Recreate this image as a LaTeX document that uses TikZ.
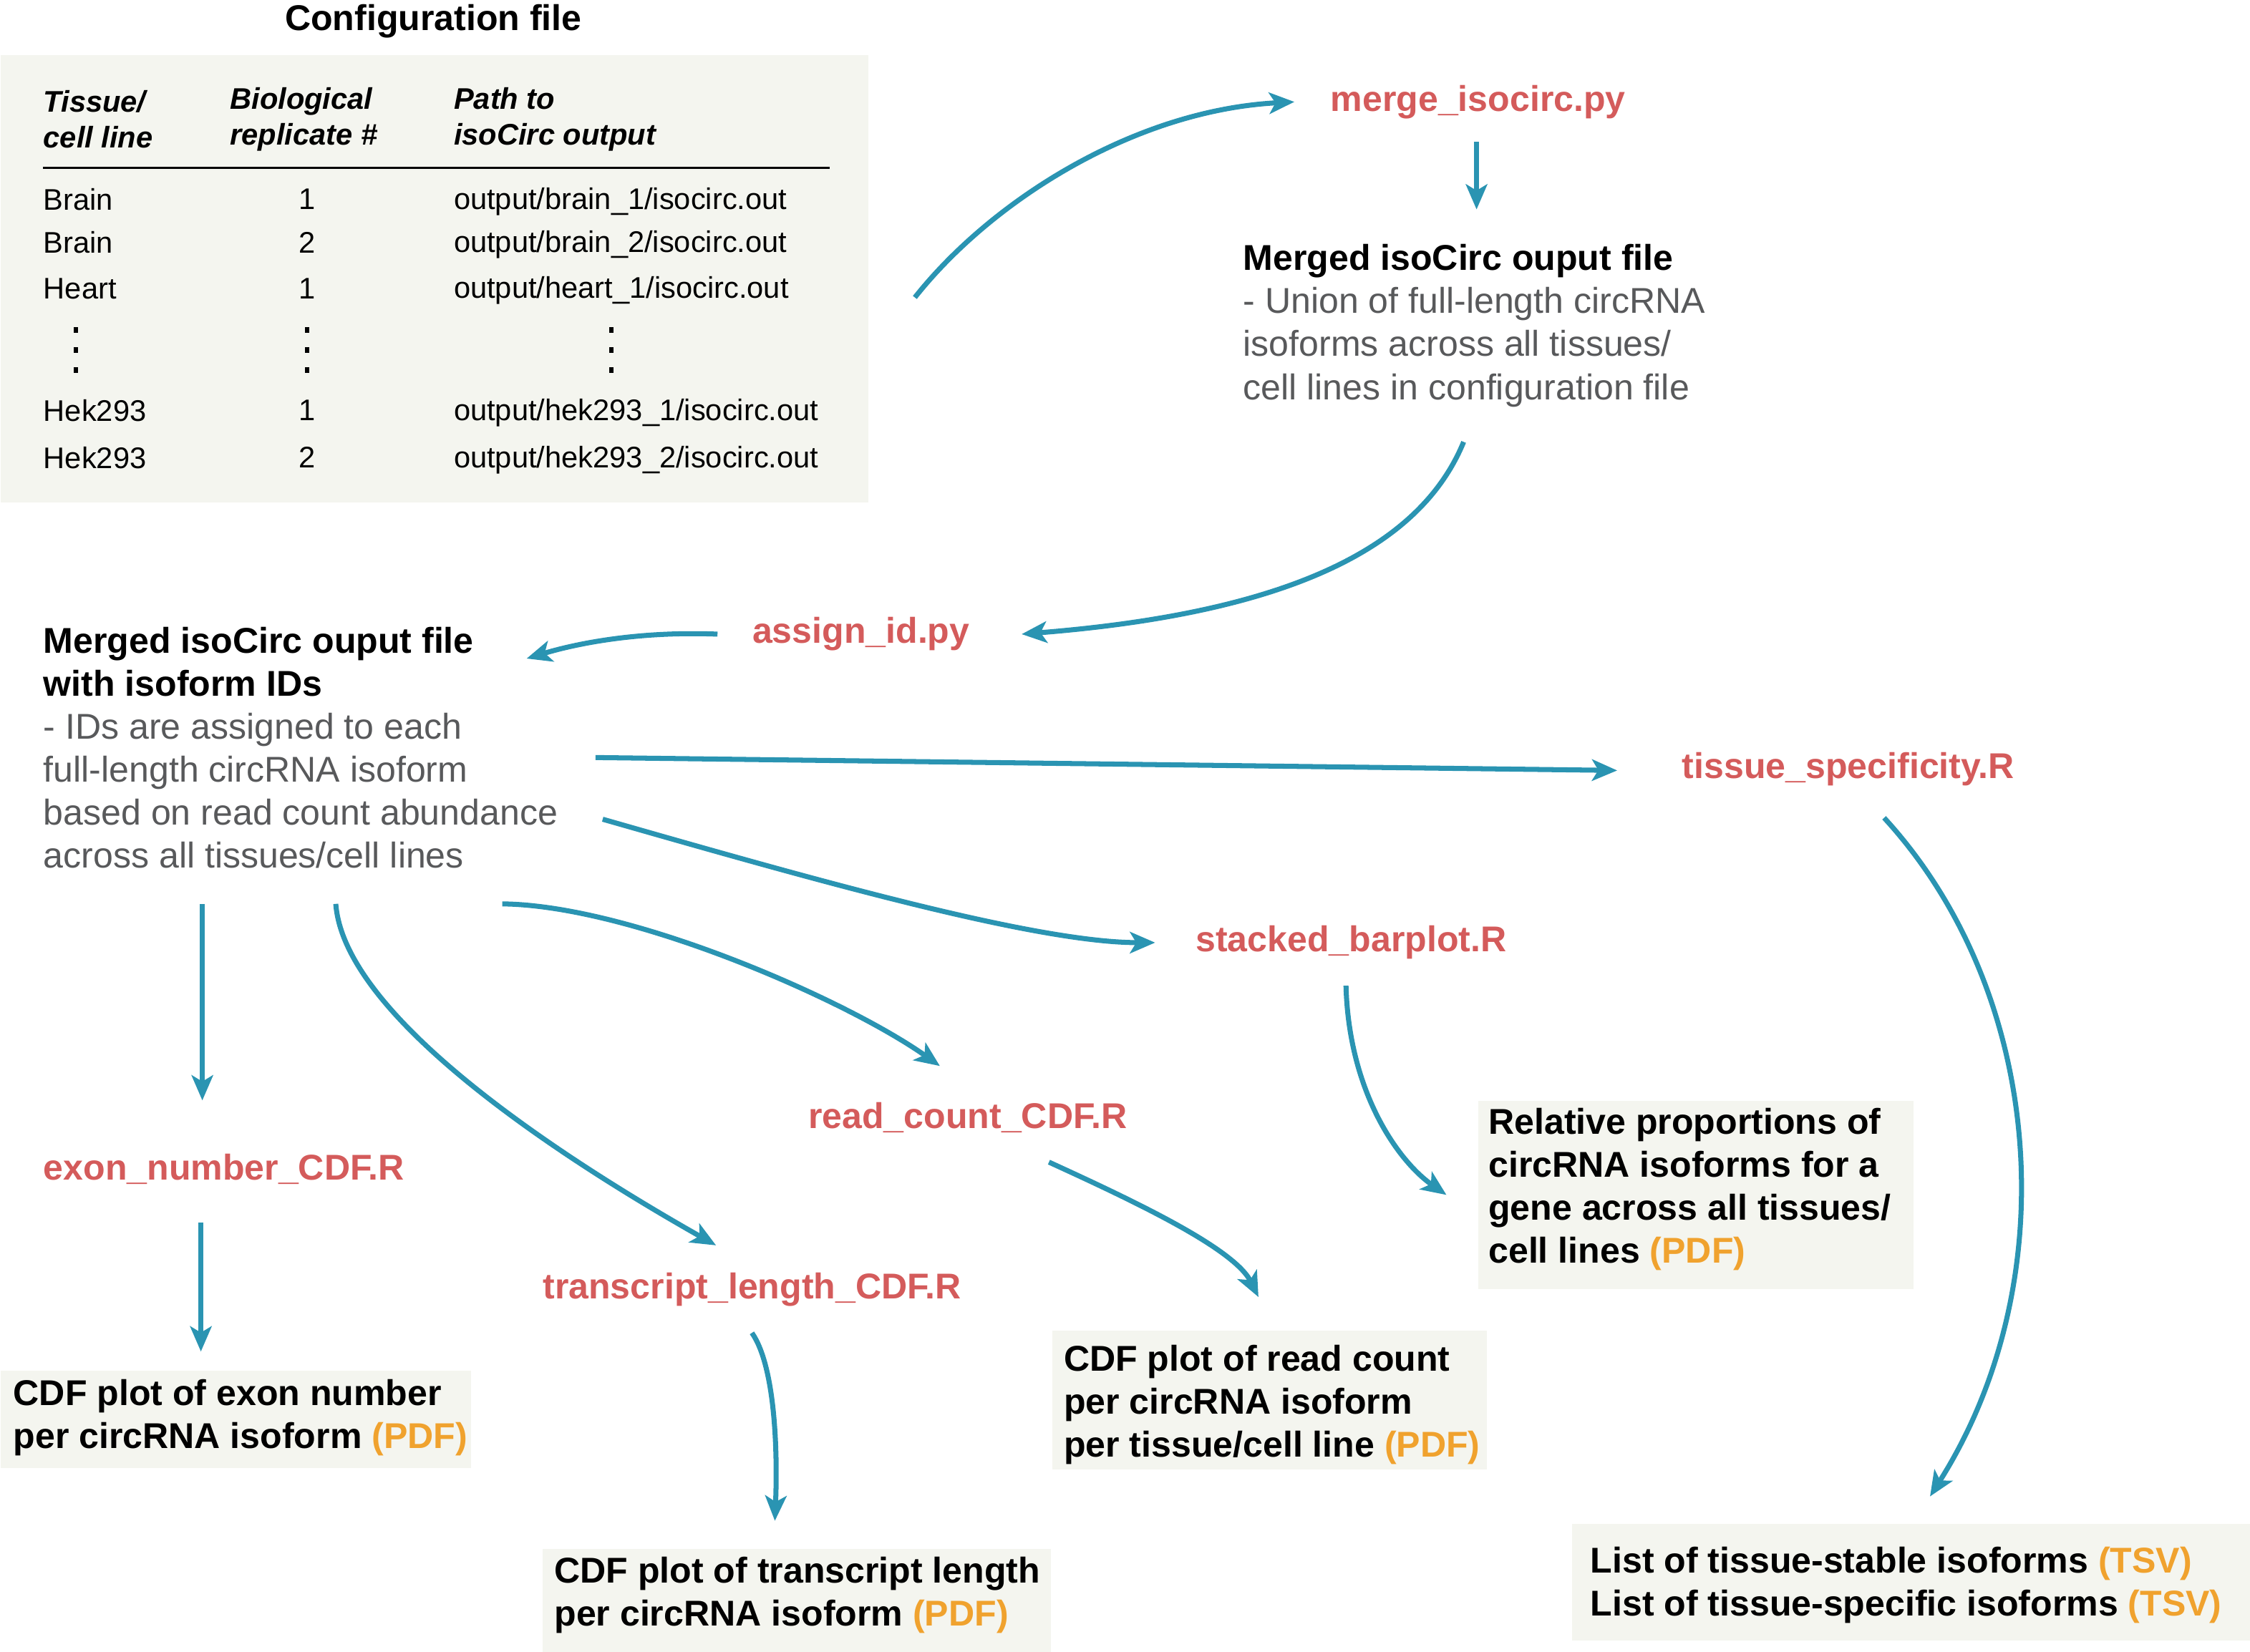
\documentclass[tikz,border=0pt]{standalone}
\usepackage{fontspec}
\setmainfont{Liberation Sans}
\usepackage{tikz}
\usetikzlibrary{arrows.meta,calc,positioning}

\definecolor{flowblue}{HTML}{2A94B2}
\definecolor{scriptred}{HTML}{D45B5B}
\definecolor{fmtorange}{HTML}{F0A22E}
\definecolor{descgray}{HTML}{58595B}
\definecolor{boxbg}{HTML}{F4F5EF}
\newcommand{\fmtpdf}{\textcolor{fmtorange}{(PDF)}}
\newcommand{\fmttsv}{\textcolor{fmtorange}{(TSV)}}

\begin{document}
\begin{tikzpicture}[x=0.020045cm, y=-0.020045cm]
	\tikzstyle{box} = [fill=boxbg, inner sep=0pt, anchor=north west]
	\tikzstyle{script} = [inner sep=0pt, anchor=west, yshift=-0.04cm, text=scriptred, font=\fontsize{14.25}{17.1}\selectfont\bfseries]
	\tikzstyle{outfile} = [inner sep=0pt, anchor=west, yshift=-0.02cm, align=left, font=\fontsize{14.25}{17.1}\selectfont\bfseries]
	\tikzstyle{desc} = [inner sep=0pt, anchor=west, yshift=-0.02cm, align=left, font=\fontsize{14.25}{17.1}\selectfont]
	\tikzstyle{cell} = [inner sep=0pt, anchor=west, font=\fontsize{11.85}{14.2}\selectfont]
	\tikzstyle{head} = [cell, align=left, yshift=-0.02cm, font=\fontsize{11.85}{14.2}\selectfont\bfseries\itshape]
	\tikzstyle{flow} = [draw=flowblue, line width=2pt, -{Stealth[length=10pt,width=8.5pt,inset=2.5pt]}]

	\useasboundingbox (0,0) rectangle (1568,1151);

	% configuration file
	\node[inner sep=0pt, yshift=-0.04cm, font=\fontsize{14.25}{17.1}\selectfont\bfseries] (title) at (302,13) {Configuration file};
	\node[box, minimum width=12.127cm, minimum height=6.254cm] (config) at (0,38) {};
	\node[head] (hd1) at (30,82) {Tissue/\\cell line};
	\node[head] (hd2) at (160,82) {Biological\\replicate \#};
	\node[head] (hd3) at (316,82) {Path to\\isoCirc output};
	\draw[line width=0.6pt] (30,117) -- (578,117);

	\node[cell] (tis1) at (30,139) {Brain};
	\node[cell, anchor=center] (rep1) at (214,139) {1};
	\node[cell, yshift=-0.03cm] (path1) at (316,139) {output/brain\_1/isocirc.out};
	\node[cell] (tis2) at (30,169) {Brain};
	\node[cell, anchor=center] (rep2) at (214,169) {2};
	\node[cell, yshift=-0.03cm] (path2) at (316,169) {output/brain\_2/isocirc.out};
	\node[cell] (tis3) at (30,201) {Heart};
	\node[cell, anchor=center] (rep3) at (214,201) {1};
	\node[cell, yshift=-0.03cm] (path3) at (316,201) {output/heart\_1/isocirc.out};
	\node[cell] (tis4) at (30,286) {Hek293};
	\node[cell, anchor=center] (rep4) at (214,286) {1};
	\node[cell, yshift=-0.03cm] (path4) at (316,286) {output/hek293\_1/isocirc.out};
	\node[cell] (tis5) at (30,319) {Hek293};
	\node[cell, anchor=center] (rep5) at (214,319) {2};
	\node[cell, yshift=-0.03cm] (path5) at (316,319) {output/hek293\_2/isocirc.out};

	\foreach \x in {53,214,426}
		\foreach \y in {230,244,258}
			\fill (\x-1.5,\y-2) rectangle ++(3,4);

	% scripts and outputs
	\node[script] (merge) at (927,69) {merge\_isocirc.py};
	\node[desc] (merged) at (866,226) {{\bfseries Merged isoCirc ouput file}\\
		\textcolor{descgray}{- Union of full-length circRNA}\\
		\textcolor{descgray}{isoforms across all tissues/}\\
		\textcolor{descgray}{cell lines in configuration file}};
	\node[script] (assign) at (524,440) {assign\_id.py};
	\node[desc] (idout) at (30,520) {{\bfseries Merged isoCirc ouput file}\\
		{\bfseries with isoform IDs}\\
		\textcolor{descgray}{- IDs are assigned to each}\\
		\textcolor{descgray}{full-length circRNA isoform}\\
		\textcolor{descgray}{based on read count abundance}\\
		\textcolor{descgray}{across all tissues/cell lines}};

	\node[script] (tissue) at (1172,534) {tissue\_specificity.R};
	\node[script] (stacked) at (833,655) {stacked\_barplot.R};
	\node[script] (readcnt) at (563,777) {read\_count\_CDF.R};
	\node[script] (exon) at (30,813) {exon\_number\_CDF.R};
	\node[script] (translen) at (378,897) {transcript\_length\_CDF.R};

	\node[box, minimum width=6.074cm, minimum height=2.626cm] (relbox) at (1030,767) {};
	\node[outfile] (relprop) at (1037,828) {Relative proportions of\\circRNA isoforms for a\\gene across all tissues/\\cell lines \fmtpdf};
	\node[box, minimum width=9.481cm, minimum height=1.624cm] (tsvbox) at (1095,1062) {};
	\node[outfile] (tsvlist) at (1108,1104) {List of tissue-stable isoforms \fmttsv\\List of tissue-specific isoforms \fmttsv};
	\node[box, minimum width=6.575cm, minimum height=1.363cm] (exonbox) at (0,955) {};
	\node[outfile] (exoncdf) at (9,987) {CDF plot of exon number\\per circRNA isoform \fmtpdf};
	\node[box, minimum width=7.096cm, minimum height=1.443cm] (tlbox) at (378,1079) {};
	\node[outfile] (tlcdf) at (386,1111) {CDF plot of transcript length\\per circRNA isoform \fmtpdf};
	\node[box, minimum width=6.074cm, minimum height=1.944cm] (rcbox) at (733,927) {};
	\node[outfile] (rccdf) at (741,978) {CDF plot of read count\\per circRNA isoform\\per tissue/cell line \fmtpdf};

	% connectors
	\draw[flow] ($(config.east)+(32,13)$) .. controls +(53,-67) and +(-112,6) .. ($(merge.west)+(-25,0)$);
	\draw[flow] ($(merge.west)+(102,28)$) -- ($(merged.west)+(163,-81)$);
	\draw[flow] ($(merged.west)+(154,81)$) .. controls +(-30,73) and +(188,-15) .. ($(assign.west)+(188,0)$);
	\draw[flow] ($(assign.west)+(-24,0)$) .. controls +(-50,-2) and +(40,-12) .. ($(idout.west)+(337,-62)$);
	\draw[flow] ($(idout.west)+(385,7)$) -- ($(tissue.west)+(-45,1)$);
	\draw[flow] ($(idout.west)+(390,50)$) .. controls +(140,40) and +(-85,0) .. ($(stacked.west)+(-28,0)$);
	\draw[flow] ($(stacked.west)+(105,30)$) .. controls +(2,75) and +(-33,-23) .. ($(relbox.west)+(-22,0)$);
	\draw[flow] ($(tissue.west)+(141,34)$) .. controls +(112,122) and +(95,-150) .. ($(tsvbox.north west)+(250,-19)$);
	\draw[flow] ($(idout.west)+(111,109)$) -- ($(exon.west)+(111,-48)$);
	\draw[flow] ($(exon.west)+(110,37)$) -- ($(exonbox.north west)+(140,-13)$);
	\draw[flow] ($(idout.west)+(204,109)$) .. controls +(6,81) and +(-99,-56) .. ($(translen.west)+(121,-31)$);
	\draw[flow] ($(translen.west)+(146,30)$) .. controls +(16,23) and +(2,-50) .. ($(tlbox.north west)+(162,-19)$);
	\draw[flow] ($(idout.west)+(320,109)$) .. controls +(90,1) and +(-65,-46) .. ($(readcnt.west)+(92,-36)$);
	\draw[flow] ($(readcnt.west)+(168,31)$) .. controls +(59,27) and +(-17,-34) .. ($(rcbox.north west)+(144,-23)$);
\end{tikzpicture}
\end{document}
